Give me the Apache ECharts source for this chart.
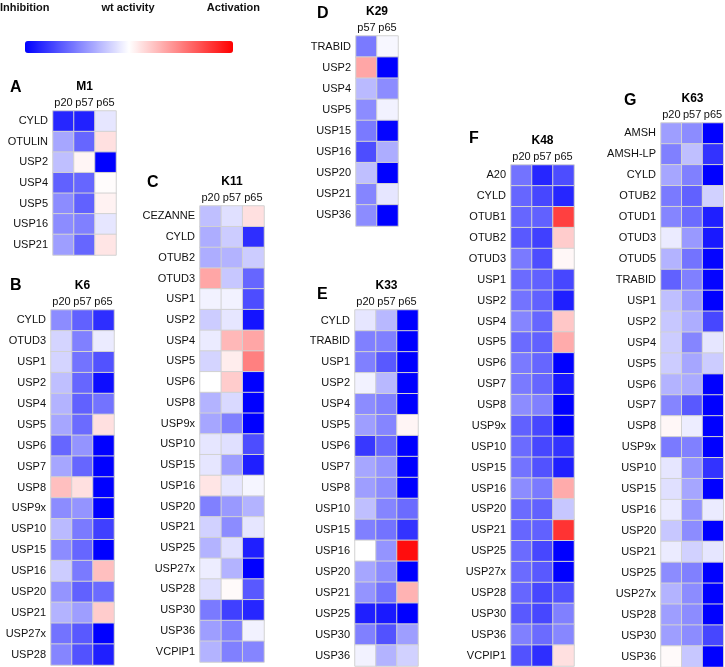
<!DOCTYPE html>
<html><head><meta charset="utf-8">
<script src="https://cdn.jsdelivr.net/npm/echarts@6/dist/echarts.min.js"></script>
<style>html,body{margin:0;padding:0;background:#fff}#c{width:725px;height:667px}</style>
</head><body><div id="c"></div>
<script>
const cols3 = ['p20','p57','p65'];
const cols2 = ['p57','p65'];

const A_rows = ['CYLD','OTULIN','USP2','USP4','USP5','USP16','USP21'];
const A_p20 = [-0.85,-0.35,-0.25,-0.62,-0.45,-0.45,-0.38];
const A_p57 = [-0.87,-0.6,0.04,-0.6,-0.62,-0.5,-0.6];
const A_p65 = [-0.1,0.12,-1,0.01,0.05,-0.1,0.1];

const B_rows = ['CYLD','OTUD3','USP1','USP2','USP4','USP5','USP6','USP7','USP8','USP9x','USP10','USP15','USP16','USP20','USP21','USP27x','USP28'];
const B_p20 = [-0.45,-0.17,-0.17,-0.25,-0.3,-0.35,-0.6,-0.35,0.25,-0.45,-0.27,-0.45,-0.2,-0.42,-0.3,-0.55,-0.48];
const B_p57 = [-0.62,-0.5,-0.55,-0.6,-0.62,-0.58,-0.42,-0.6,0.12,-0.42,-0.52,-0.6,-0.52,-0.62,-0.38,-0.65,-0.68];
const B_p65 = [-0.82,-0.08,-0.68,-0.95,-0.55,0.12,-1,-1,-1,-1,-0.75,-1,0.25,-0.58,0.2,-1,-0.88];

const C_rows = ['CEZANNE','CYLD','OTUB2','OTUD3','USP1','USP2','USP4','USP5','USP6','USP8','USP9x','USP10','USP15','USP16','USP20','USP21','USP25','USP27x','USP28','USP30','USP36','VCPIP1'];
const C_p20 = [-0.25,-0.32,-0.32,0.35,-0.05,-0.2,-0.08,-0.17,0,-0.3,-0.35,-0.1,-0.1,0.1,-0.5,-0.18,-0.3,-0.07,-0.13,-0.52,-0.38,-0.3];
const C_p57 = [-0.12,-0.2,-0.3,-0.22,-0.05,-0.1,0.28,0.07,0.2,-0.15,-0.5,-0.12,-0.38,-0.1,-0.4,-0.45,-0.12,-0.3,0.02,-0.75,-0.5,-0.5];
const C_p65 = [0.12,-0.82,-0.2,-0.6,-0.7,-0.92,0.35,0.5,-1,-1,-1,-0.7,-0.88,-0.04,-0.3,-0.1,-0.88,-1,-0.65,-0.85,-0.05,-0.48];

const D_rows = ['TRABID','USP2','USP4','USP5','USP15','USP16','USP20','USP21','USP36'];
const D_p57 = [-0.52,0.35,-0.27,-0.45,-0.52,-0.7,-0.25,-0.48,-0.45];
const D_p65 = [-0.03,-1,-0.45,-0.05,-0.98,-0.32,-1,-0.1,-1];

const E_rows = ['CYLD','TRABID','USP1','USP2','USP4','USP5','USP6','USP7','USP8','USP10','USP15','USP16','USP20','USP21','USP25','USP30','USP36'];
const E_p20 = [-0.1,-0.5,-0.5,-0.05,-0.45,-0.38,-0.78,-0.35,-0.38,-0.25,-0.5,0,-0.35,-0.42,-0.88,-0.5,-0.05];
const E_p57 = [-0.28,-0.5,-0.65,-0.28,-0.5,-0.48,-0.6,-0.42,-0.45,-0.48,-0.55,-0.42,-0.45,-0.55,-0.9,-0.68,-0.3];
const E_p65 = [-1,-1,-1,-1,-1,0.04,-1,-1,-1,-0.58,-0.8,0.95,-1,0.3,-1,-0.38,-0.18];

const F_rows = ['A20','CYLD','OTUB1','OTUB2','OTUD3','USP1','USP2','USP4','USP5','USP6','USP7','USP8','USP9x','USP10','USP15','USP16','USP20','USP21','USP25','USP27x','USP28','USP30','USP36','VCPIP1'];
const F_p20 = [-0.55,-0.6,-0.6,-0.65,-0.52,-0.58,-0.55,-0.48,-0.58,-0.52,-0.52,-0.45,-0.62,-0.58,-0.55,-0.45,-0.58,-0.6,-0.58,-0.58,-0.6,-0.65,-0.5,-0.68];
const F_p57 = [-0.85,-0.72,-0.62,-0.75,-0.7,-0.62,-0.62,-0.6,-0.62,-0.6,-0.6,-0.5,-0.72,-0.72,-0.68,-0.52,-0.62,-0.62,-0.72,-0.65,-0.72,-0.72,-0.58,-0.82];
const F_p65 = [-0.7,-0.85,0.75,0.2,0.03,-0.72,-0.88,0.22,0.33,-1,-0.9,-1,-1,-0.8,-0.88,0.33,-0.22,0.8,-1,-1,-0.68,-0.5,-0.47,0.12];

const G_rows = ['AMSH','AMSH-LP','CYLD','OTUB2','OTUD1','OTUD3','OTUD5','TRABID','USP1','USP2','USP4','USP5','USP6','USP7','USP8','USP9x','USP10','USP15','USP16','USP20','USP21','USP25','USP27x','USP28','USP30','USP36'];
const G_p20 = [-0.38,-0.5,-0.35,-0.52,-0.48,-0.08,-0.3,-0.62,-0.25,-0.22,-0.2,-0.2,-0.3,-0.48,0.03,-0.52,-0.1,-0.12,-0.08,-0.22,-0.08,-0.45,-0.3,-0.38,-0.38,0.02];
const G_p57 = [-0.45,-0.25,-0.5,-0.62,-0.58,-0.4,-0.55,-0.5,-0.4,-0.32,-0.48,-0.35,-0.33,-0.65,-0.07,-0.5,-0.42,-0.35,-0.42,-0.45,-0.18,-0.5,-0.45,-0.45,-0.45,-0.22];
const G_p65 = [-1,-0.8,-1,-0.18,-0.88,-0.9,-0.98,-0.98,-1,-0.72,-0.1,-0.2,-1,-1,-1,-1,-0.8,-1,-0.08,-1,-0.1,-1,-1,-1,-0.72,-1];

const legendTexts = ['Inhibition','wt activity','Activation'];

const panels = [
  {letter:'A', title:'M1',  rows:A_rows, cols:cols3, vals:[A_p20,A_p57,A_p65], box:[53,111,63,144], lx:10, ly:80},
  {letter:'B', title:'K6',  rows:B_rows, cols:cols3, vals:[B_p20,B_p57,B_p65], box:[51,310,63,355], lx:10, ly:278},
  {letter:'C', title:'K11', rows:C_rows, cols:cols3, vals:[C_p20,C_p57,C_p65], box:[200,206,64,456], lx:147, ly:175},
  {letter:'D', title:'K29', rows:D_rows, cols:cols2, vals:[D_p57,D_p65], box:[356,36,42,190], lx:317, ly:6},
  {letter:'E', title:'K33', rows:E_rows, cols:cols3, vals:[E_p20,E_p57,E_p65], box:[355,310,63,356], lx:317, ly:287},
  {letter:'F', title:'K48', rows:F_rows, cols:cols3, vals:[F_p20,F_p57,F_p65], box:[511,165,63,501], lx:469, ly:131},
  {letter:'G', title:'K63', rows:G_rows, cols:cols3, vals:[G_p20,G_p57,G_p65], box:[661,123,63,544], lx:624, ly:93}
];

const FONT = '"Liberation Sans", Arial, Helvetica, sans-serif';
const grid=[], xAxis=[], yAxis=[], series=[], graphic=[];
panels.forEach((p,i)=>{
  const [l,t,w,h]=p.box;
  grid.push({left:l, top:t, width:w, height:h, containLabel:false});
  xAxis.push({gridIndex:i, type:'category', data:p.cols, position:'top',
    axisLine:{show:false}, axisTick:{show:false}, splitLine:{show:false},
    axisLabel:{fontSize:11, color:'#111', margin:3, fontFamily:FONT, interval:0}});
  yAxis.push({gridIndex:i, type:'category', data:p.rows, inverse:true,
    axisLine:{show:false}, axisTick:{show:false}, splitLine:{show:false},
    axisLabel:{fontSize:11, color:'#111', margin:5, fontFamily:FONT, interval:0}});
  const data=[];
  p.vals.forEach((arr,ci)=>arr.forEach((v,ri)=>data.push([ci,ri,v])));
  series.push({type:'heatmap', xAxisIndex:i, yAxisIndex:i, data:data,
    itemStyle:{borderColor:'#d2d2d2', borderWidth:1}, emphasis:{disabled:true}});
  graphic.push({type:'text', left:p.lx, top:p.ly, style:{text:p.letter, font:'bold 16px '+FONT, fill:'#000'}});
  graphic.push({type:'text', x:l+w/2, y:t-30, style:{text:p.title, font:'bold 12px '+FONT, fill:'#000', textAlign:'center'}});
});
graphic.push({type:'text', left:0, top:2, style:{text:legendTexts[0], font:'bold 11px '+FONT, fill:'#111'}});
graphic.push({type:'text', x:128, y:2, style:{text:legendTexts[1], font:'bold 11px '+FONT, fill:'#111', textAlign:'center'}});
graphic.push({type:'text', x:260, y:2, style:{text:legendTexts[2], font:'bold 11px '+FONT, fill:'#111', textAlign:'right'}});

const chart = echarts.init(document.getElementById('c'), null, {renderer:'canvas'});
chart.setOption({
  animation:false,
  backgroundColor:'#fff',
  grid, xAxis, yAxis, series, graphic,
  visualMap:{type:'continuous', min:-1, max:1, orient:'horizontal', left:25, top:41,
    itemWidth:12, itemHeight:208, padding:0, calculable:false, text:null, showLabel:false,
    hoverLink:false, realtime:false, seriesIndex:[0,1,2,3,4,5,6],
    inRange:{color:['#0000ff','#ffffff','#ff0000']}, textStyle:{fontSize:0}}
});
</script></body></html>
